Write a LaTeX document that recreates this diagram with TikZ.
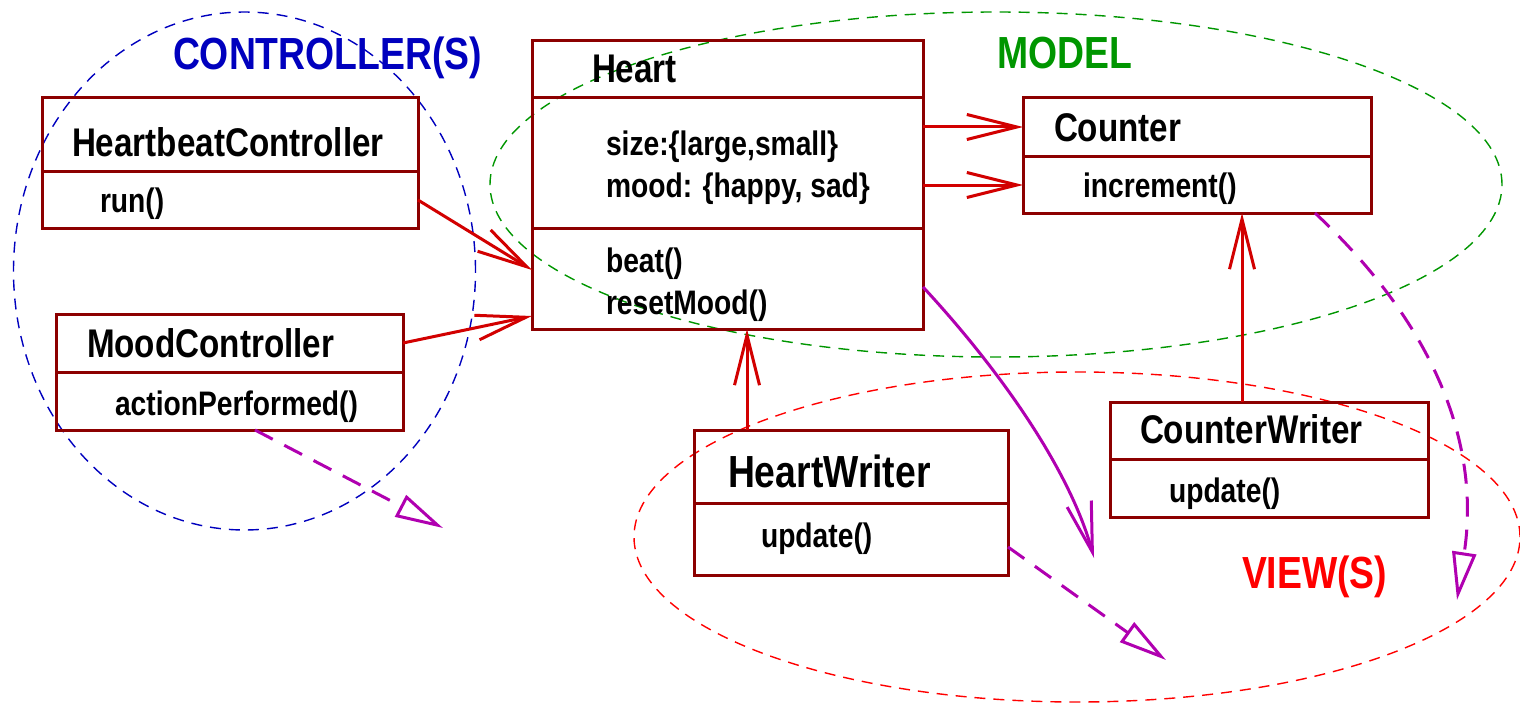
\documentclass[tikz,border=0pt]{standalone}
\usepackage{fontspec}
\newfontfamily\umlfont[FakeStretch=0.83]{Liberation Sans}
\usetikzlibrary{arrows.meta}

\definecolor{boxred}{RGB}{140,0,0}
\definecolor{linkred}{RGB}{210,0,0}
\definecolor{depmag}{RGB}{176,0,176}
\definecolor{ctrlblue}{RGB}{0,0,190}
\definecolor{modelgreen}{RGB}{0,150,0}
\definecolor{viewred}{RGB}{255,0,0}

\tikzset{
  umlbox/.style={draw=boxred, line width=3pt, rectangle, inner sep=0pt, outer sep=0pt},
  divider/.style={draw=boxred, line width=3pt},
  lbl/.style={anchor=base west, inner sep=0pt, outer sep=0pt},
  cname/.style={lbl, font=\umlfont\bfseries\fontsize{40}{48}\selectfont},
  bigname/.style={lbl, font=\umlfont\bfseries\fontsize{45}{54}\selectfont},
  member/.style={lbl, font=\umlfont\bfseries\fontsize{34}{40}\selectfont},
  heading/.style={lbl, font=\umlfont\bfseries\fontsize{45}{54}\selectfont},
  assoc/.style={draw=linkred, line width=3pt, -{Straight Barb[length=50pt,width=25pt]}},
  flow/.style={draw=depmag, line width=3pt, -{Straight Barb[length=50pt,width=25pt]}},
  depend/.style={draw=depmag, line width=3pt, dash pattern=on 20pt off 13pt,
    -{Triangle[open,length=48pt,width=24pt]}},
  region/.style={line width=1.4pt, dash pattern=on 11pt off 8pt},
}

\begin{document}
\begin{tikzpicture}[x=1pt,y=-1pt]
\useasboundingbox (0,0) rectangle (1520,706);

% MVC regions
\draw[region, ctrlblue]   (244.5,271) ellipse [x radius=231pt, y radius=259pt];
\draw[region, modelgreen] (996,184.5) ellipse [x radius=506pt, y radius=172.5pt];
\draw[region, viewred]    (1077,537)  ellipse [x radius=443pt, y radius=165pt];

\node[heading, text=ctrlblue]   (hctrl)  at (173,70)  {CONTROLLER(S)};
\node[heading, text=modelgreen] (hmodel) at (997,69)  {MODEL};
\node[heading, text=viewred]    (hview)  at (1242,588) {VIEW(S)};

% class boxes
\node[umlbox, minimum width=376pt, minimum height=130pt] (hbc)     at (230,163) {};
\node[umlbox, minimum width=391pt, minimum height=288pt] (heart)   at (727.5,185) {};
\node[umlbox, minimum width=348pt, minimum height=115pt] (counter) at (1197,155.5) {};
\node[umlbox, minimum width=347pt, minimum height=116pt] (mood)    at (229.5,372) {};
\node[umlbox, minimum width=314pt, minimum height=145pt] (hw)      at (851,502.5) {};
\node[umlbox, minimum width=318pt, minimum height=115pt] (cw)      at (1269,459.5) {};

% compartment dividers
\draw[divider] (hbc.west |- 0,171) -- (hbc.east |- 0,171);
\draw[divider] (heart.west |- 0,98) -- (heart.east |- 0,98);
\draw[divider] (heart.west |- 0,228) -- (heart.east |- 0,228);
\draw[divider] (counter.west |- 0,156) -- (counter.east |- 0,156);
\draw[divider] (mood.west |- 0,372) -- (mood.east |- 0,372);
\draw[divider] (hw.west |- 0,503) -- (hw.east |- 0,503);
\draw[divider] (cw.west |- 0,459) -- (cw.east |- 0,459);

% class texts
\node[cname]  (thbc)   at (72,157)   {HeartbeatController};
\node[member] (thbcm)  at (100,212)  {run()};
\node[cname]  (theart) at (592,83)   {Heart};
\node[member] (ta1)    at (606,155)  {size:\{large,small\}};
\node[member] (ta2)    at (606,197)  {mood: \{happy, sad\}};
\node[member] (tm1)    at (606,272)  {beat()};
\node[member] (tm2)    at (606,314)  {resetMood()};
\node[cname]  (tcnt)   at (1054,142) {Counter};
\node[member] (tcntm)  at (1083,197) {increment()};
\node[cname]  (tmood)  at (87,357)   {MoodController};
\node[member] (tmoodm) at (115,415)  {actionPerformed()};
\node[bigname](thw)    at (728,487)  {HeartWriter};
\node[member] (thwm)   at (761,547)  {update()};
\node[cname]  (tcw)    at (1140,443) {CounterWriter};
\node[member] (tcwm)   at (1169,502) {update()};

% free ends of the dependency arrows
\coordinate (e1) at (443,528);
\coordinate (e2) at (1094,558);
\coordinate (e3) at (1166,660);
\coordinate (e4) at (1457,600);

% associations
\draw[assoc] (hbc.east |- 0,200) -- (heart.west |- 0,270);
\draw[assoc] (mood.east |- 0,343) -- (heart.west |- 0,316);
\draw[assoc] (heart.east |- 0,127) -- (counter.west |- 0,127);
\draw[assoc] (heart.east |- 0,185) -- (counter.west |- 0,185);
\draw[assoc] (hw.north -| 747,0) -- (heart.south -| 747,0);
\draw[assoc] (cw.north -| 1242,0) -- (counter.south -| 1242,0);

% notifications and dependencies
\draw[flow] (heart.east |- 0,287) .. controls (1000,370) and (1070,470) .. (e2);
\draw[depend] (mood.south -| 255,0) -- (e1);
\draw[depend] (hw.east |- 0,547) -- (e3);
\draw[depend] (counter.south -| 1315,0) .. controls (1440,330) and (1480,450) .. (e4);
\end{tikzpicture}
\end{document}
